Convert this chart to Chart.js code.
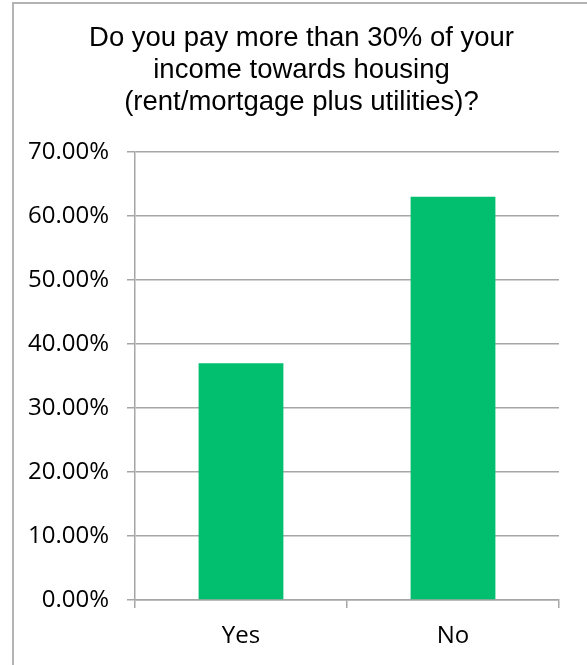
<!DOCTYPE html>
<html>
<head>
<meta charset="utf-8">
<title>Housing cost survey</title>
<script src="https://cdn.jsdelivr.net/npm/chart.js@4"></script>
<style>
  html, body { margin: 0; padding: 0; background: #fff; overflow: hidden; }
  #frame {
    position: absolute;
    left: 12px;
    top: 2px;
    width: 700px;
    height: 800px;
    border-top: 2px solid #b3b3b3;
    border-left: 2px solid #b3b3b3;
  }
  #chart { position: absolute; left: 0; top: 0; }
</style>
</head>
<body>
<div id="frame"></div>
<canvas id="chart" width="587" height="665"></canvas>
<script>
// Survey answers and share of respondents (%)
const answers = ['Yes', 'No'];
const shares = [37, 63];
const yTicks = [0, 10, 20, 30, 40, 50, 60, 70];

const titleLines = [
    'Do you pay more than 30% of your',
    'income towards housing',
    '(rent/mortgage plus utilities)?'
];

const gridColor = '#a6a6a6';
const tickFont = { family: "'Open Sans', sans-serif", size: 24 };

function drawChart() {
    const ctx = document.getElementById('chart').getContext('2d');
    new Chart(ctx, {
        type: 'bar',
        data: {
            labels: answers,
            datasets: [{
                data: shares,
                backgroundColor: '#02bf6f',
                borderWidth: 0,
                barPercentage: 0.4,
                categoryPercentage: 1.0
            }]
        },
        options: {
            responsive: false,
            animation: false,
            layout: {
                padding: { left: 16, right: 0, top: 22, bottom: 0 }
            },
            plugins: {
                legend: { display: false },
                tooltip: { enabled: false },
                title: {
                    display: true,
                    text: titleLines,
                    color: '#000',
                    font: { family: "'Liberation Sans', Arial, sans-serif", size: 27.5, weight: 'normal', lineHeight: 32 / 27.5 },
                    padding: { top: 0, bottom: 34 }
                }
            },
            scales: {
                x: {
                    afterFit: scale => { scale.height = 65; },
                    grid: {
                        drawOnChartArea: false,
                        drawTicks: true,
                        tickLength: 8,
                        color: gridColor,
                        lineWidth: 1.5
                    },
                    border: { display: true, color: gridColor, width: 1.5 },
                    ticks: { color: '#000', font: tickFont, padding: 14 }
                },
                y: {
                    min: yTicks[0],
                    max: yTicks[yTicks.length - 1],
                    afterFit: scale => { scale.width = 119; },
                    grid: {
                        color: gridColor,
                        lineWidth: 1.5,
                        drawTicks: true,
                        tickLength: 8
                    },
                    border: { display: true, color: gridColor, width: 1.5 },
                    ticks: {
                        stepSize: yTicks[1] - yTicks[0],
                        color: '#000',
                        font: tickFont,
                        padding: 18,
                        callback: value => Number(value).toFixed(2) + '%'
                    }
                },
                // empty strip on the right so the plot stops short of the edge
                spacer: {
                    type: 'linear',
                    position: 'right',
                    afterFit: scale => { scale.width = 28; },
                    grid: { drawOnChartArea: false, drawTicks: false },
                    border: { display: false },
                    ticks: { display: false }
                }
            }
        }
    });
}

// wait for the local fonts so the canvas text uses them
Promise.all([
    document.fonts.load("24px 'Open Sans'"),
    document.fonts.load("27px 'Liberation Sans'")
]).then(drawChart, drawChart);
</script>
</body>
</html>
